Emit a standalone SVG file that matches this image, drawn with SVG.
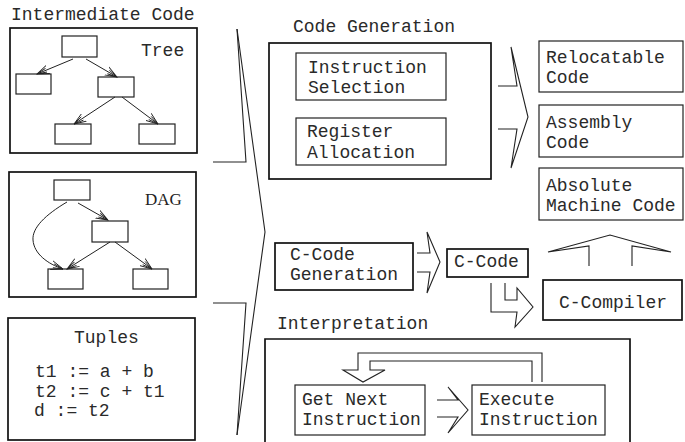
<svg xmlns="http://www.w3.org/2000/svg" width="685" height="442" viewBox="0 0 685 442">
<style>
  .t{font-family:"Liberation Mono","Courier New",monospace;font-size:18px;fill:#2a2a2a}
  .s{font-family:"Liberation Serif","Times New Roman",serif;font-size:17px;fill:#222}
  .ob{fill:none;stroke:#111;stroke-width:1.7}
  .ib{fill:none;stroke:#222;stroke-width:1.2}
  .ln{fill:none;stroke:#222;stroke-width:1.1;stroke-linejoin:miter}
  .ar{fill:none;stroke:#222;stroke-width:1}
</style>
<defs>
  <marker id="oa" markerWidth="14" markerHeight="12" refX="12" refY="6" orient="auto" markerUnits="userSpaceOnUse">
    <path d="M0,1.5 L12,6 L0,10.5 M2,4 L12,6 L2,8" fill="none" stroke="#222" stroke-width="0.9"/>
  </marker>
</defs>
<rect width="685" height="442" fill="#fff"/>

<g id="intermediate-code">
  <text class="t" x="11" y="20">Intermediate Code</text>
</g>

<g id="tree">
  <rect class="ob" x="10" y="28" width="187" height="125"/>
  <text class="t" x="141" y="56">Tree</text>
  <rect class="ib" x="62" y="36" width="35" height="21"/>
  <rect class="ib" x="16" y="74" width="35" height="20"/>
  <rect class="ib" x="98" y="77" width="36" height="20"/>
  <rect class="ib" x="55" y="124" width="36" height="20"/>
  <rect class="ib" x="139" y="124" width="36" height="20"/>
  <line class="ar" x1="73" y1="59" x2="37" y2="74" marker-end="url(#oa)"/>
  <line class="ar" x1="86" y1="59" x2="117" y2="77" marker-end="url(#oa)"/>
  <line class="ar" x1="115" y1="97" x2="74" y2="124" marker-end="url(#oa)"/>
  <line class="ar" x1="122" y1="97" x2="158" y2="124" marker-end="url(#oa)"/>
</g>

<g id="dag">
  <rect class="ob" x="9" y="172" width="187" height="125"/>
  <text class="s" x="145" y="205">DAG</text>
  <rect class="ib" x="54" y="180" width="36" height="20"/>
  <rect class="ib" x="92" y="221" width="36" height="21"/>
  <rect class="ib" x="48" y="269" width="35" height="20"/>
  <rect class="ib" x="133" y="269" width="35" height="20"/>
  <line class="ar" x1="78" y1="203" x2="108" y2="220" marker-end="url(#oa)"/>
  <path class="ar" d="M67,202 C45,215 32,228 33,240 C34,254 48,264 63,269" marker-end="url(#oa)"/>
  <line class="ar" x1="110" y1="242" x2="67" y2="269" marker-end="url(#oa)"/>
  <line class="ar" x1="115" y1="242" x2="152" y2="269" marker-end="url(#oa)"/>
</g>

<g id="tuples">
  <rect class="ob" x="8" y="318" width="187" height="122"/>
  <text class="t" x="74" y="343">Tuples</text>
  <text class="t" x="35" y="377">t1 := a + b</text>
  <text class="t" x="35" y="397">t2 := c + t1</text>
  <text class="t" x="34" y="416">d := t2</text>
</g>

<g id="code-generation">
  <text class="t" x="293" y="32">Code Generation</text>
  <rect class="ob" x="269" y="43" width="222" height="136"/>
</g>
<g id="instruction-selection">
  <rect class="ib" x="296" y="53" width="150" height="47"/>
  <text class="t" x="308" y="73">Instruction</text>
  <text class="t" x="308" y="93">Selection</text>
</g>
<g id="register-allocation">
  <rect class="ib" x="296" y="118" width="150" height="47"/>
  <text class="t" x="307" y="137">Register</text>
  <text class="t" x="307" y="158">Allocation</text>
</g>

<g id="relocatable-code">
  <rect class="ib" x="539" y="41" width="144" height="51"/>
  <text class="t" x="546" y="63">Relocatable</text>
  <text class="t" x="546" y="83">Code</text>
</g>
<g id="assembly-code">
  <rect class="ib" x="539" y="105" width="144" height="52"/>
  <text class="t" x="546" y="128">Assembly</text>
  <text class="t" x="546" y="148">Code</text>
</g>
<g id="absolute-machine-code">
  <rect class="ib" x="539" y="168" width="144" height="52"/>
  <text class="t" x="546" y="191">Absolute</text>
  <text class="t" x="546" y="211">Machine Code</text>
</g>

<g id="c-code-generation">
  <rect class="ob" x="275" y="243" width="138" height="47"/>
  <text class="t" x="290" y="260">C-Code</text>
  <text class="t" x="290" y="280">Generation</text>
</g>
<g id="c-code">
  <rect class="ob" x="447" y="249" width="81" height="28"/>
  <text class="t" x="454" y="267">C-Code</text>
</g>
<g id="c-compiler">
  <rect class="ob" x="543" y="280" width="139" height="40"/>
  <text class="t" x="559" y="308">C-Compiler</text>
</g>

<g id="interpretation">
  <text class="t" x="277" y="329">Interpretation</text>
  <path class="ob" d="M265,443 V339 H630 V443"/>
</g>
<g id="get-next-instruction">
  <rect class="ib" x="295" y="385" width="130" height="50"/>
  <text class="t" x="302" y="405">Get Next</text>
  <text class="t" x="302" y="425">Instruction</text>
</g>
<g id="execute-instruction">
  <rect class="ib" x="472" y="385" width="133" height="50"/>
  <text class="t" x="479" y="405">Execute</text>
  <text class="t" x="479" y="425">Instruction</text>
</g>

<g id="connectors">
  <path class="ln" d="M237,29 L265,232 L237,435"/>
  <path class="ln" d="M213,162 H246 L237,29"/>
  <path class="ln" d="M213,303 H246 L237,435"/>
  <path class="ln" d="M498,86 H517 L511,47 L528,117 L511,168 L517,129 H498"/>
  <path class="ln" d="M417,253 H430 L427,232 L440,262 L427,293 L430,272 H417"/>
  <path class="ln" d="M505,283 V300 H517 V288 L533,307 L515,327 L517,312 H491 V283"/>
  <path class="ln" d="M589,266 V246 L548,252 L610,235 L671,252 L632,246 V266"/>
  <path class="ln" d="M437,400 H458 L448,387 L468,410 L448,433 L458,417 H437"/>
  <path class="ln" d="M532,382 V361 H370 V370 H385 L363,382 L343,370 H358 V353 H542 V382"/>
</g>
</svg>
